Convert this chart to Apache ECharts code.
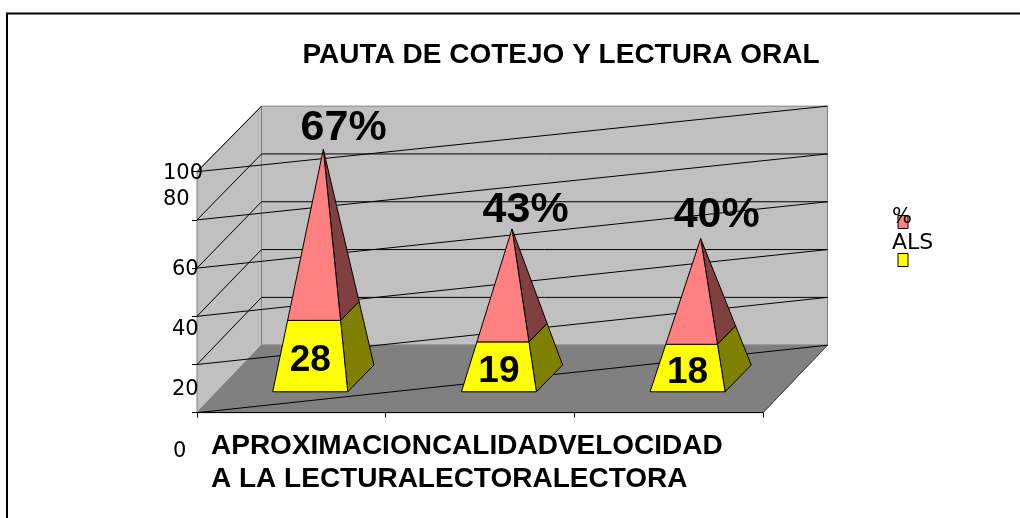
<!DOCTYPE html>
<html><head><meta charset="utf-8">
<style>html,body{margin:0;padding:0;background:#fff}#c{width:1020px;height:518px}</style>
<script src="https://cdn.jsdelivr.net/npm/echarts@6/dist/echarts.min.js"></script>
</head><body><div id="c"></div>
<script>
const chartTitle = 'PAUTA DE COTEJO Y LECTURA ORAL';
const categories = ['APROXIMACION\nA LA LECTURA', 'CALIDAD\nLECTORA', 'VELOCIDAD\nLECTORA'];
const seriesNames = ['%', 'ALS'];
const alsValues = [28, 19, 18];
const pctValues = [67, 43, 40];
const yTicks = [0, 20, 40, 60, 80, 100];

// layout (pixels)
const FONT = '"Liberation Sans", Arial, sans-serif';
const FONT2 = '"DejaVu Sans", sans-serif';
const WALL_DX = 64.5, WALL_DY = 67.5, WALL_BACK_SCALE = 0.992;
const BASE_HALF_W = 37.5, BASE_DEPTH_X = 32, BASE_DEPTH_Y = 34.3, BASE_HALF_DX = 13.1, BASE_HALF_DY = 13.4;
const yLabelCenters = [451.5, 390, 329.5, 269.5, 200, 174];
const yLabelLefts = [173, 172, 172, 172, 163, 163];
const pctLabelOffsets = [[20.3, -21], [13.6, -19], [16, -23]];
const alsLabelDy = 5;

function wallsItem(params, api) {
  const cs = params.coordSys, L = cs.x, R = cs.x + cs.width;
  const y = v => api.coord([0, v])[1];
  const y0 = y(0), y100 = y(100);
  const back = t => y0 - WALL_DY - (y0 - t) * WALL_BACK_SCALE;
  const line = (x1, y1, x2, y2, stroke, w) => ({type: 'line', shape: {x1, y1, x2, y2}, style: {stroke: stroke || '#000', lineWidth: w || 1}});
  const poly = (points, fill, stroke) => ({type: 'polygon', shape: {points}, style: {fill, stroke: stroke || fill, lineWidth: 1}});
  const ch = [
    poly([[L, y0], [L + WALL_DX, back(y0)], [L + WALL_DX, back(y100)], [L, y100]], '#c0c0c0', '#808080'),
    poly([[L + WALL_DX, back(y0)], [R + WALL_DX, back(y0)], [R + WALL_DX, back(y100)], [L + WALL_DX, back(y100)]], '#c0c0c0', '#808080'),
    poly([[L, y0], [R, y0], [R + WALL_DX, back(y0)], [L + WALL_DX, back(y0)]], '#808080', '#808080'),
    line(R, y0, R + WALL_DX, back(y0), '#404040')
  ];
  yTicks.forEach(v => {
    const t = y(v);
    if (v > 0) {
      ch.push(line(L, t, L + WALL_DX, back(t), '#000'));
      if (v < 100) ch.push(line(L + WALL_DX, back(t), R + WALL_DX, back(t), '#000'));
    }
    ch.push(line(L, t, R + WALL_DX, back(t), '#000'));
  });
  return {type: 'group', children: ch};
}

function pyramidItem(isTop) {
  return function (params, api) {
    const i = params.dataIndex;
    const cx = api.coord([api.value(0), 0])[0];
    const lo = api.value(1), hi = api.value(2), total = api.value(3);
    const section = v => {
      const p = api.coord([api.value(0), v]);
      const k = 1 - v / total;
      const mx = cx + BASE_DEPTH_X, my = p[1] - BASE_DEPTH_Y;
      return {
        fl: [mx - BASE_HALF_W * k - BASE_HALF_DX * k, my + BASE_HALF_DY * k],
        fr: [mx + BASE_HALF_W * k - BASE_HALF_DX * k, my + BASE_HALF_DY * k],
        br: [mx + BASE_HALF_W * k + BASE_HALF_DX * k, my - BASE_HALF_DY * k]
      };
    };
    const a = section(lo), b = section(hi);
    const st = fill => ({fill, stroke: '#000', lineWidth: 1, lineJoin: 'miter'});
    const ch = [
      {type: 'polygon', shape: {points: [a.fr, a.br, b.br, b.fr]}, style: st(isTop ? '#804040' : '#808000')},
      {type: 'polygon', shape: {points: [a.fl, a.fr, b.fr, b.fl]}, style: st(isTop ? '#ff8080' : '#ffff00')}
    ];
    const fmt = (t, x, y, size) => ({type: 'text', z2: 50, style: {text: t, x, y, align: 'center', verticalAlign: 'middle', font: 'bold ' + size + 'px ' + FONT, fill: '#000'}});
    if (isTop) {
      const off = pctLabelOffsets[i];
      ch.push(fmt(api.value(4) + '%', b.fr[0] + off[0], b.fr[1] + off[1], 43));
    } else {
      ch.push(fmt(String(api.value(4)), (a.fl[0] + a.fr[0]) / 2, (a.fl[1] + b.fl[1]) / 2 + alsLabelDy, 37));
    }
    return {type: 'group', children: ch};
  };
}

const totals = alsValues.map((v, i) => v + pctValues[i]);
const alsData = categories.map((c, i) => [c, 0, alsValues[i], totals[i], alsValues[i]]);
const pctData = categories.map((c, i) => [c, alsValues[i], totals[i], totals[i], pctValues[i]]);

const chart = echarts.init(document.getElementById('c'), null, {renderer: 'canvas'});

// x labels flow one after another, as in the source picture
const mctx = document.createElement('canvas').getContext('2d');
const xFont = 'bold 28px ' + FONT;
mctx.font = xFont;
function flow(lineIdx, startX, baseY) {
  let x = startX;
  return categories.map(c => {
    const t = c.split('\n')[lineIdx];
    const el = {type: 'text', z: 20, style: {text: t, x, y: baseY, font: xFont, fill: '#000', textAlign: 'left', textVerticalAlign: 'middle'}};
    x += mctx.measureText(t).width;
    return el;
  });
}

const yTickEls = yTicks.map((v, i) => ({type: 'text', z: 20, style: {text: String(v), x: yLabelLefts[i], y: yLabelCenters[i], font: '21px ' + FONT2, fill: '#000', textAlign: 'left', textVerticalAlign: 'middle'}}));
const legendEls = [
  {type: 'rect', z: 20, shape: {x: 898, y: 215.5, width: 10, height: 13}, style: {fill: '#ff8080', stroke: '#000', lineWidth: 1}},
  {type: 'rect', z: 20, shape: {x: 898, y: 253.5, width: 10, height: 13}, style: {fill: '#ffff00', stroke: '#000', lineWidth: 1}},
  {type: 'text', z: 21, style: {text: seriesNames[0], x: 892, y: 217.5, font: '21px ' + FONT2, fill: '#000', textAlign: 'left', textVerticalAlign: 'middle'}},
  {type: 'text', z: 21, style: {text: seriesNames[1], x: 892, y: 243.5, font: '22px ' + FONT2, fill: '#000', textAlign: 'left', textVerticalAlign: 'middle'}}
];

chart.setOption({
  animation: false,
  backgroundColor: '#fff',
  title: {text: chartTitle, left: 556, top: 50.5, textAlign: 'center', textVerticalAlign: 'middle',
    textStyle: {fontFamily: FONT, fontWeight: 'bold', fontSize: 28, color: '#000'}},
  grid: {left: 197, right: 257, top: 171.7, bottom: 105.3, containLabel: false},
  xAxis: {type: 'category', data: categories, z: 10, boundaryGap: true,
    axisLine: {show: true, lineStyle: {color: '#000', width: 1}},
    axisTick: {show: true, length: 5, lineStyle: {color: '#000'}},
    axisLabel: {show: false}, splitLine: {show: false}},
  yAxis: {type: 'value', min: 0, max: 100, interval: 20, z: 10,
    axisLine: {show: false},
    axisTick: {show: true, length: 5, lineStyle: {color: '#000'}},
    axisLabel: {show: false}, splitLine: {show: false}},
  graphic: {elements: [
    {type: 'polyline', z: -1, shape: {points: [[7, 518], [7, 13.5], [1020, 13.5]]}, style: {stroke: '#000', lineWidth: 2, fill: null}},
    ...yTickEls, ...flow(0, 211, 446), ...flow(1, 211, 479), ...legendEls
  ]},
  series: [
    {type: 'custom', z: 1, silent: true, clip: false, data: [[categories[0], 0]], encode: {x: 0, y: 1}, renderItem: wallsItem},
    {type: 'custom', name: seriesNames[1], z: 3, clip: false, data: alsData, encode: {x: 0, y: [1, 2]}, renderItem: pyramidItem(false)},
    {type: 'custom', name: seriesNames[0], z: 4, clip: false, data: pctData, encode: {x: 0, y: [1, 2]}, renderItem: pyramidItem(true)}
  ]
});
</script></body></html>
